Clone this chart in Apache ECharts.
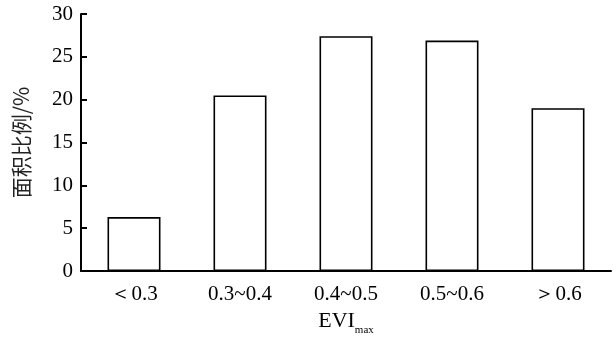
<!DOCTYPE html>
<html><head><meta charset="utf-8">
<script src="https://cdn.jsdelivr.net/npm/echarts@6/dist/echarts.min.js"></script>
<style>html,body{margin:0;padding:0;background:#fff}#c{width:616px;height:338px}</style>
</head><body><div id="c"></div>
<script>
const categories = ['＜0.3', '0.3~0.4', '0.4~0.5', '0.5~0.6', '＞0.6'];
const values = [6.3, 20.5, 27.4, 26.9, 19.0];
const yTicks = [0, 5, 10, 15, 20, 25, 30];

const chart = echarts.init(document.getElementById('c'), null, {renderer: 'canvas'});
const serif = '"Liberation Serif","Times New Roman",serif';
chart.setOption({
  animation: false,
  grid: {left: 81, right: 5, top: 14, bottom: 67, outerBoundsMode: 'none', containLabel: false},
  xAxis: {
    type: 'category',
    data: categories,
    axisLine: {lineStyle: {color: '#000', width: 2}},
    axisTick: {show: false},
    axisLabel: {color: '#000', fontFamily: serif, fontSize: 21, margin: 13},
    name: '{a|EVI}{b|max}',
    nameLocation: 'middle',
    nameGap: 38,
    nameTextStyle: {
      rich: {
        a: {fontFamily: serif, fontSize: 22, color: '#000', verticalAlign: 'bottom', lineHeight: 22},
        b: {fontFamily: serif, fontSize: 11, color: '#000', verticalAlign: 'bottom', lineHeight: 14, padding: [0,0,-4,0]}
      }
    }
  },
  yAxis: {
    type: 'value',
    min: yTicks[0], max: yTicks[yTicks.length - 1], interval: 5,
    axisLine: {show: true, lineStyle: {color: '#000', width: 2}},
    axisTick: {show: true, inside: true, length: 6, lineStyle: {color: '#000', width: 2}},
    splitLine: {show: false},
    axisLabel: {color: '#000', fontFamily: serif, fontSize: 21, margin: 8},
    name: '面积比例/%',
    nameLocation: 'middle',
    nameGap: 49,
    nameTextStyle: {fontFamily: '"Noto Sans CJK SC",sans-serif', fontSize: 21, color: '#222'}
  },
  series: [{
    type: 'bar',
    data: values,
    barWidth: '50%',
    itemStyle: {color: '#fff', borderColor: '#000', borderWidth: 1.6}
  }]
});
</script></body></html>
